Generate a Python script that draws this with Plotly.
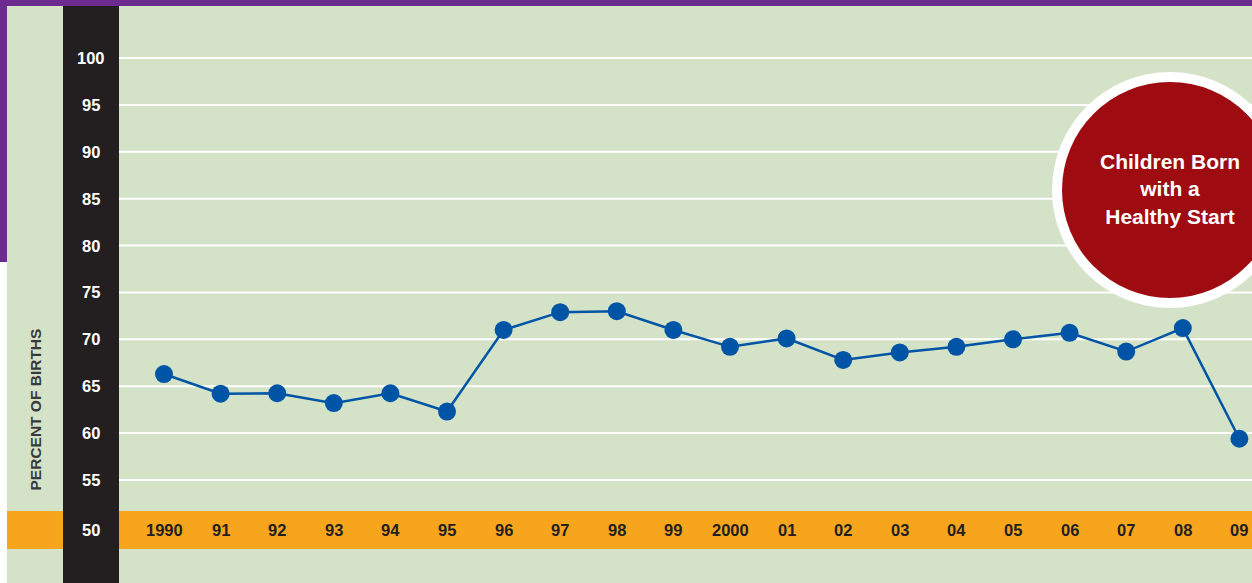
import plotly.graph_objects as go

# ---- data ----
years = list(range(1990, 2010))
year_labels = ["1990", "91", "92", "93", "94", "95", "96", "97", "98", "99",
               "2000", "01", "02", "03", "04", "05", "06", "07", "08", "09"]
percent_births = [66.3, 64.2, 64.25, 63.2, 64.25, 62.3, 71.0, 72.9, 73.0, 71.0,
                  69.2, 70.1, 67.8, 68.6, 69.2, 70.0, 70.7, 68.7, 71.2, 59.4]
y_ticks = [100, 95, 90, 85, 80, 75, 70, 65, 60, 55, 50]
grid_values = [100, 95, 90, 85, 80, 75, 70, 65, 60, 55]

W, H = 1252, 583
PURPLE = "#6e2b8f"
GREEN = "#d4e2c7"
BLACK = "#231f20"
ORANGE = "#f7a51c"
RED = "#9e0b10"
BLUE = "#0054a6"

def px(x):
    return x / W

def py(y):
    return 1 - y / H

# pixel->data calibration for the axes (layout only)
PX_PER_UNIT = 9.378
Y_TOP = 100 + 58 / PX_PER_UNIT
Y_BOT = 100 - (H - 58) / PX_PER_UNIT
PX_PER_YEAR = 56.6
X0_PX = 164
X_LEFT = 1990 - X0_PX / PX_PER_YEAR
X_RIGHT = 1990 + (W - X0_PX) / PX_PER_YEAR

fig = go.Figure()
fig.add_trace(go.Scatter(
    x=years, y=percent_births, mode="lines+markers",
    line=dict(color=BLUE, width=2.5),
    marker=dict(color=BLUE, size=18),
    hoverinfo="x+y", showlegend=False, cliponaxis=False,
))

shapes = [
    dict(type="rect", xref="paper", yref="paper", x0=px(7), x1=1, y0=0, y1=py(6),
         fillcolor=GREEN, line_width=0, layer="below"),
    dict(type="rect", xref="paper", yref="paper", x0=0, x1=1, y0=py(6), y1=1,
         fillcolor=PURPLE, line_width=0, layer="below"),
    dict(type="rect", xref="paper", yref="paper", x0=0, x1=px(7), y0=py(262), y1=1,
         fillcolor=PURPLE, line_width=0, layer="below"),
    dict(type="rect", xref="paper", yref="paper", x0=px(7), x1=1, y0=py(549), y1=py(511),
         fillcolor=ORANGE, line_width=0, layer="below"),
    dict(type="rect", xref="paper", yref="paper", x0=px(63), x1=px(119), y0=0, y1=py(6),
         fillcolor=BLACK, line_width=0, layer="below"),
]
for g in grid_values:
    shapes.append(dict(type="line", xref="paper", yref="y", x0=px(119), x1=1, y0=g, y1=g,
                       line=dict(color="white", width=2), layer="below"))

cx, cy = 1170, 190
shapes.append(dict(type="circle", xref="paper", yref="paper",
                   x0=px(cx - 118), x1=px(cx + 118), y0=py(cy + 118), y1=py(cy - 118),
                   fillcolor="white", line_width=0, layer="above"))
shapes.append(dict(type="circle", xref="paper", yref="paper",
                   x0=px(cx - 108), x1=px(cx + 108), y0=py(cy + 108), y1=py(cy - 108),
                   fillcolor=RED, line_width=0, layer="above"))

TICK_FONT = "Liberation Sans, Arial, sans-serif"
annotations = []
for t in y_ticks:
    annotations.append(dict(x=px(91), xref="paper", y=t, yref="y",
                            xanchor="center", yanchor="middle",
                            yshift=-3 if t == 50 else 0,
                            text=f"<b>{t}</b>", showarrow=False,
                            font=dict(family=TICK_FONT, size=16.5, color="white")))
for yr, lab in zip(years, year_labels):
    annotations.append(dict(x=yr, xref="x", y=50, yref="y", yshift=-3,
                            xanchor="center", yanchor="middle",
                            text=f"<b>{lab}</b>", showarrow=False,
                            font=dict(family=TICK_FONT, size=16.5, color=BLACK)))
annotations.append(dict(x=px(34.5), xref="paper", y=py(410), yref="paper",
                        xanchor="center", yanchor="middle",
                        text="<b>PERCENT OF BIRTHS</b>", showarrow=False, textangle=-90,
                        font=dict(family=TICK_FONT, size=15.5, color="#3a3a3a")))
annotations.append(dict(x=px(cx), xref="paper", y=py(189), yref="paper",
                        xanchor="center", yanchor="middle",
                        text="<b>Children Born<br>with a<br>Healthy Start</b>", showarrow=False,
                        align="center",
                        font=dict(family=TICK_FONT, size=21, color="white")))

fig.update_layout(
    width=W, height=H,
    margin=dict(l=0, r=0, t=0, b=0),
    paper_bgcolor="white", plot_bgcolor="rgba(0,0,0,0)",
    xaxis=dict(range=[X_LEFT, X_RIGHT], visible=False, fixedrange=True),
    yaxis=dict(range=[Y_BOT, Y_TOP], visible=False, fixedrange=True),
    shapes=shapes, annotations=annotations,
)

fig.write_html("out.html", config={"displayModeBar": False},
               post_script="document.body.style.margin='0';document.body.style.overflow='hidden';")
